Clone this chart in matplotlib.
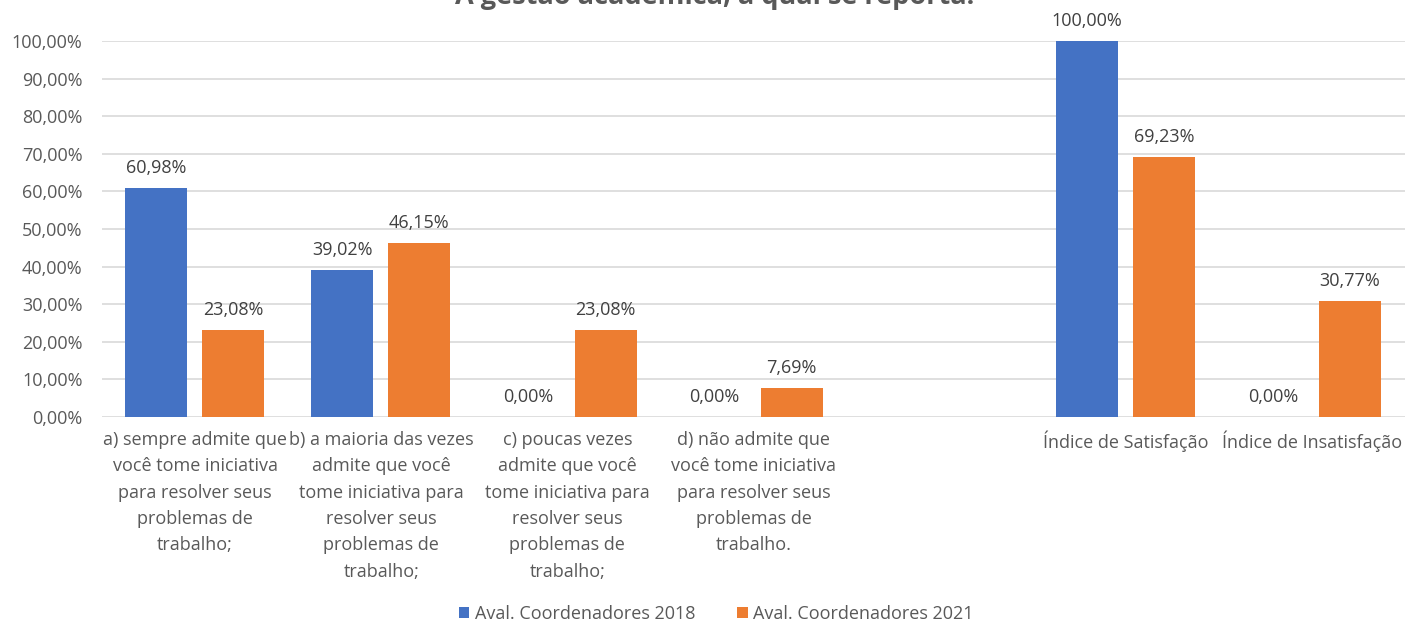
import matplotlib
matplotlib.use("Agg")
import matplotlib.pyplot as plt
import numpy as np

categories = [
    "a) sempre admite que\nvocê tome iniciativa\npara resolver seus\nproblemas de\ntrabalho;",
    "b) a maioria das vezes\nadmite que você\ntome iniciativa para\nresolver seus\nproblemas de\ntrabalho;",
    "c) poucas vezes\nadmite que você\ntome iniciativa para\nresolver seus\nproblemas de\ntrabalho;",
    "d) não admite que\nvocê tome iniciativa\npara resolver seus\nproblemas de\ntrabalho.",
    "",
    "Índice de Satisfação",
    "Índice de Insatisfação",
]
series_names = ["Aval. Coordenadores 2018", "Aval. Coordenadores 2021"]
values_2018 = [60.98, 39.02, 0.00, 0.00, None, 100.00, 0.00]
values_2021 = [23.08, 46.15, 23.08, 7.69, None, 69.23, 30.77]
yticks = [0, 10, 20, 30, 40, 50, 60, 70, 80, 90, 100]
title = "A gestão acadêmica, a qual se reporta:"

colors = ["#4472C4", "#ED7D31"]
text_color = "#595959"
plt.rcParams["font.family"] = ["Open Sans", "DejaVu Sans"]

fig = plt.figure(figsize=(14.23, 6.25), dpi=100)
ax = fig.add_axes([102/1423, 1-417/625, (1405-102)/1423, (417-41)/625])

x = np.arange(len(categories))
w = 0.333
offs = [-0.21, 0.205]
for vals, off, col, name in zip([values_2018, values_2021], offs, colors, series_names):
    xs = [xi + off for xi, v in zip(x, vals) if v is not None]
    vs = [v for v in vals if v is not None]
    ax.bar(xs, vs, width=w, color=col, label=name, zorder=3, clip_on=False)
    for xi, v in zip(xs, vs):
        ax.annotate(f"{v:.2f}%".replace(".", ","), (xi, v), xytext=(0, 8),
                    textcoords="offset points", ha="center", va="bottom",
                    fontsize=13, color="#404040")

ax.set_xlim(-0.5, len(categories) - 0.5)
ax.set_ylim(0, 100)
ax.set_yticks(yticks)
ax.set_yticklabels([f"{t:.2f}%".replace(".", ",") for t in yticks], fontsize=13, color=text_color)
ax.set_xticks(x)
ax.set_xticklabels(categories, fontsize=13, color=text_color, linespacing=1.6, va="top")
ax.tick_params(axis="both", length=0)
ax.tick_params(axis="x", pad=10)
ax.tick_params(axis="y", pad=14)
ax.grid(axis="y", color="#D9D9D9", linewidth=1.2, zorder=0)
ax.set_axisbelow(True)
for s in ax.spines.values():
    s.set_visible(False)

fig.text(715/1423, 1-4/625, title, ha="center", va="baseline", fontsize=19.5,
         fontweight="bold", color=text_color)

fig.legend(loc="center", bbox_to_anchor=(716/1423, 1-614/625), ncol=2, frameon=False,
           fontsize=13, labelcolor=text_color, handlelength=0.6, handleheight=0.6,
           handletextpad=0.3, columnspacing=2.3)

fig.savefig("out.png", dpi=100)
